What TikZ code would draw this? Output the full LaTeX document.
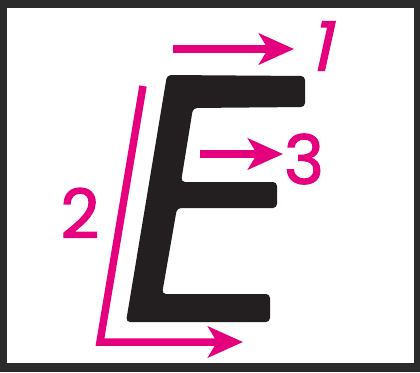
\documentclass[tikz,border=0pt]{standalone}
\usepackage{fontspec}
\usetikzlibrary{arrows.meta, positioning}
\newfontfamily\digitfont[FakeBold=1.8]{Poppins}
\newfontfamily\slantfont[FakeSlant=0.22, FakeBold=1.8]{Poppins}
\definecolor{cpink}{HTML}{E5007E}
\definecolor{cink}{HTML}{231F20}
\definecolor{cframe}{HTML}{2B2B2B}
\tikzset{
  arrow/.style={-{Stealth[length=35pt, width=31pt, inset=9pt]}, draw=cpink, line width=7.5pt},
  digit/.style={text=cpink, font=\digitfont\fontsize{68}{68}\selectfont, inner sep=0pt},
  letter/.style={fill=cink, rounded corners=4pt},
}

\begin{document}
\begin{tikzpicture}[x=1pt, y=-1pt]
  \useasboundingbox (0,0) rectangle (420,372);
  \fill[cframe] (0,0) rectangle (420,372);
  \fill[white] (7,8) rectangle (414,363);
  % the letter
  \fill[letter] (167,75) -- (305,76) -- (305,107) -- (193,108) -- (181,182) -- (277,182)
    -- (277,208) -- (177,208) -- (162,294) -- (270,294) -- (270,322) -- (126,322) -- cycle;
  % strokes
  \coordinate (s1) at (173,49);
  \coordinate (e1) at (294,49);
  \coordinate (s2) at (143,86);
  \coordinate (c2) at (100,342);
  \coordinate (e2) at (243,342);
  \coordinate (s3) at (200,154);
  \coordinate (e3) at (283,154);
  \foreach \a/\b in {s1/e1, s3/e3} \draw[arrow] (\a) -- (\b);
  \draw[arrow] (s2) -- (c2) -- (e2);
  \node[digit, font=\slantfont\fontsize{68}{68}\selectfont] (n1) at (320,46) {1};
  \node[digit] (n2) at (80,213) {2};
  \node[digit] (n3) at (304,159) {3};
\end{tikzpicture}
\end{document}
